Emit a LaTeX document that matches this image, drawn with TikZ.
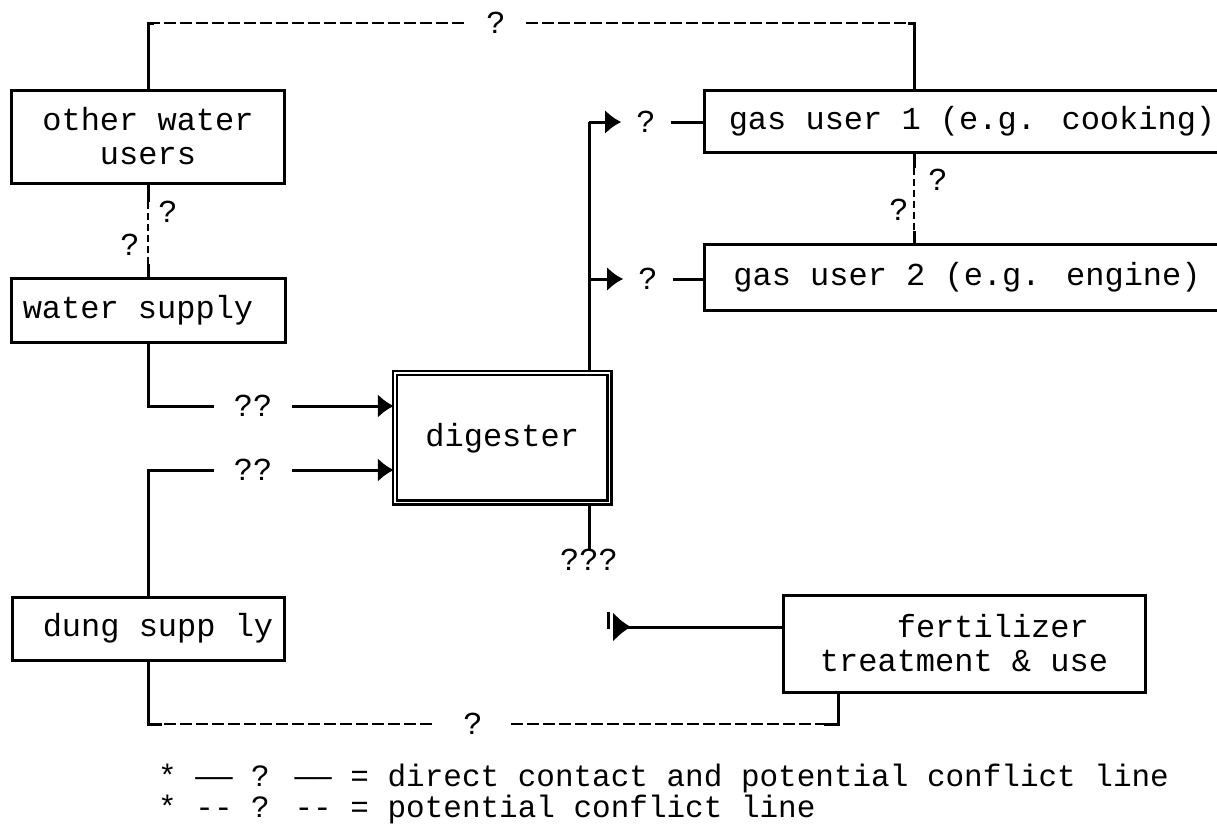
\documentclass[tikz,border=0pt]{standalone}
\usepackage{fontspec}
\newfontfamily\monofam{Liberation Mono}
\usetikzlibrary{arrows.meta}
\begin{document}
\begin{tikzpicture}[x=1pt,y=-1pt,
  every node/.style={font=\monofam\fontsize{32}{34}\selectfont, inner sep=0pt},
  box/.style={draw, line width=3pt, inner sep=0pt, align=center},
  solidline/.style={line width=3pt},
  dashline/.style={line width=2pt, dash pattern=on 12pt off 4pt},
  thindash/.style={line width=1.6pt, dash pattern=on 7pt off 4pt},
  gap/.style={inner xsep=20pt, inner ysep=0pt},
  widegap/.style={inner xsep=28pt, inner ysep=0pt},
  legend/.style={anchor=base west, font=\monofam\fontsize{31}{33}\selectfont},
  arr/.style={line width=3pt, -{Latex[length=16pt,width=24pt]}}]
\useasboundingbox (0,0) rectangle (1217,827);
\fill[white] (0,0) rectangle (1217,827);

% boxes
\node[box, minimum width=273pt, minimum height=93pt] (ow) at (148,136.5) {other water\\users};
\node[box, minimum width=274pt, minimum height=64pt] (ws) at (148,310) {water supply\hspace*{20pt}};
\node[box, minimum width=272pt, minimum height=63pt] (ds) at (148,628.5) {\hspace*{20pt}dung supp ly};
\node[draw, line width=2.5pt, double, double distance=1.5pt, minimum width=214.5pt, minimum height=129.5pt, inner sep=0pt] (dig) at (502.25,437.75) {digester};
\node[box, minimum width=536pt, minimum height=62pt] (g1) at (972,121) {gas user 1 (e.g. cooking)};
\node[box, minimum width=536pt, minimum height=66pt] (g2) at (972,277) {gas user 2 (e.g. engine)\hspace*{10pt}};
\node[box, minimum width=362pt, minimum height=97pt, align=left] (fe) at (964,643.5) {\phantom{0000}fertilizer\\treatment \& use};

% top potential conflict line
\coordinate (tl) at (148,23);
\coordinate (tr) at (914,23);
\node[gap] (q1) at (496,23) {?};
\draw[solidline] (ow.north) -- (tl) -- ++(6,0);
\draw[dashline] (tl) -- (q1);
\draw[dashline] (q1) -- (tr);
\draw[solidline] (tr) ++(-6,0) -- (tr) -- (tr |- g1.north);

% other water users -- water supply
\draw[solidline] (ow.south) -- ++(0,17) coordinate (a1);
\draw[solidline] (ws.north) -- ++(0,-13) coordinate (a2);
\draw[thindash] (a1) -- (a2);
\node (qa) at (168,212) {?};
\node (qb) at (130,245) {?};

% gas user 1 -- gas user 2
\coordinate (gx) at (914,0);
\draw[solidline] (g1.south -| gx) -- ++(0,14) coordinate (b1);
\draw[solidline] (g2.north -| gx) -- ++(0,-12) coordinate (b2);
\draw[thindash] (b1) -- (b2);
\node (qc) at (938,180) {?};
\node (qd) at (899,210) {?};

% water supply -> digester
\node[gap] (qq1) at (253,406) {??};
\draw[solidline] (ws.south) |- (qq1);
\draw[arr] (qq1) -- (qq1 -| dig.west);

% dung supply -> digester
\node[gap] (qq2) at (253,470) {??};
\draw[solidline] (ds.north) |- (qq2);
\draw[arr] (qq2) -- (qq2 -| dig.west);

% digester -> gas users
\coordinate (dx) at (589,0);
\node[inner xsep=15pt] (qg1) at (646,122) {?};
\node[inner xsep=15pt] (qg2) at (648,279) {?};
\draw[solidline] (dig.north -| dx) -- (dx |- qg1.west);
\draw[arr] (dx |- qg1.west) -- (qg1.west);
\draw[arr] (dx |- qg2.west) -- (qg2.west);
\draw[solidline] (qg1.east) -- (qg1.east -| g1.west);
\draw[solidline] (qg2.east) -- (qg2.east -| g2.west);

% digester output
\node (q3) at (589,560) {???};
\draw[solidline] (dig.south -| dx) -- (q3.north);

% fertilizer
\coordinate (fa) at (613,627);
\draw[line width=3pt, {Latex[reversed,length=18pt,width=30pt]}-] (fa) -- (fa -| fe.west);
\draw[line width=3pt] (608,612) -- (608,629);

% bottom potential conflict line
\coordinate (bl) at (148,724);
\coordinate (br) at (838,724);
\node[widegap] (q4) at (473,724) {?};
\draw[solidline] (ds.south) -- (bl) -- ++(14,0);
\draw[dashline] (bl) -- (q4);
\draw[dashline] (q4) -- (br);
\draw[solidline] (br) ++(-14,0) -- (br) -- (br |- fe.south);

% legend
\node[legend] (lg1) at (158,786) {* —— ? —— = direct contact and potential conflict line};
\node[legend] (lg2) at (158,817) {* -\kern0pt- ? -\kern0pt- = potential conflict line};
\end{tikzpicture}
\end{document}
